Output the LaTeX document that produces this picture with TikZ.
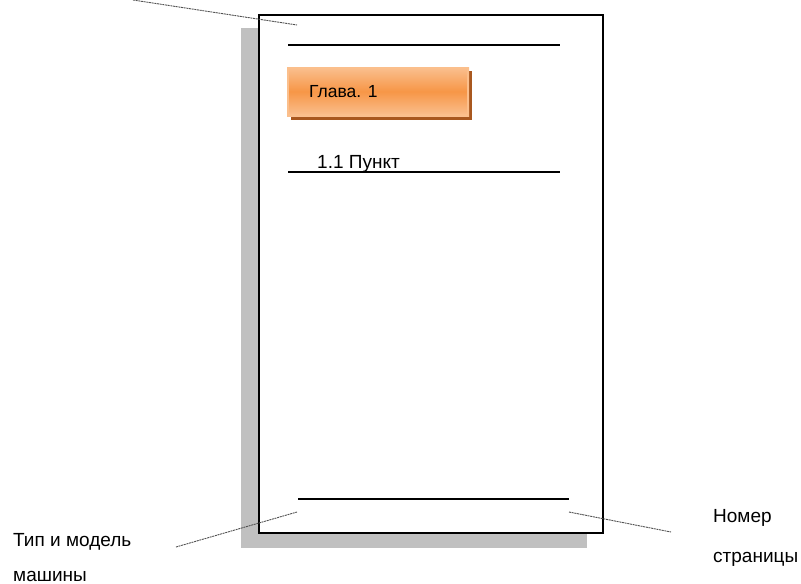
\documentclass[tikz,border=0pt]{standalone}
\usepackage{fontspec}
\setmainfont{Liberation Sans}
\definecolor{pageshadow}{HTML}{C0C0C0}
\definecolor{orlight}{HTML}{FAC090}
\definecolor{ormid}{HTML}{F79646}
\definecolor{ordark}{HTML}{A9581F}
\definecolor{orborder}{HTML}{FBBF8C}
\definecolor{leadgray}{HTML}{505050}
\begin{document}
\begin{tikzpicture}[x=1pt,y=-1pt,
  lbl/.style={inner sep=0pt,anchor=base west,font=\fontsize{19}{23}\selectfont},
  boxlbl/.style={inner sep=0pt,anchor=base west,font=\fontsize{17.5}{21}\selectfont},
  rule/.style={line width=1.4pt,black},
  leader/.style={leadgray,line width=0.9pt,dash pattern=on 2pt off 0.7pt}]
\useasboundingbox (0,0) rectangle (801,584);
% page shadow and page
\fill[pageshadow] (241,28) rectangle (587,548);
\node[draw=black,line width=1.6pt,fill=white,inner sep=0pt,minimum width=344pt,minimum height=518pt,anchor=north west] (page) at (258,14) {};
% rules
\coordinate (r1a) at (288,45); \coordinate (r1b) at (560,45);
\coordinate (r2a) at (288,172); \coordinate (r2b) at (560,172);
\coordinate (r3a) at (298,499); \coordinate (r3b) at (569,499);
\draw[rule] (r1a) -- (r1b);
\draw[rule] (r2a) -- (r2b);
\draw[rule] (r3a) -- (r3b);
% chapter box
\fill[ordark] (291,71) rectangle (472,120);
\shade[top color=orlight,bottom color=orlight,middle color=ormid] (287,67) rectangle (469,116);
\draw[orborder,line width=1.5pt] (288,68) rectangle (468,115);
\node[boxlbl] (ch) at (309,97) {Глава. 1};
\node[lbl] (pt) at (317,168) {1.1 Пункт};
% labels
\node[lbl] (tip) at (13,546) {Тип и модель};
\node[lbl] (mash) at (13,581) {машины};
\node[lbl] (nom) at (713,522) {Номер};
\node[lbl] (str) at (713,562) {страницы};
% leaders
\coordinate (tA) at (133,0); \coordinate (tB) at (297,25);
\coordinate (lA) at (176,547); \coordinate (lB) at (297,512);
\coordinate (rA) at (569,512); \coordinate (rB) at (671,532);
\draw[leader] (tA) -- (tB);
\draw[leader] (lA) -- (lB);
\draw[leader] (rA) -- (rB);
\end{tikzpicture}
\end{document}
